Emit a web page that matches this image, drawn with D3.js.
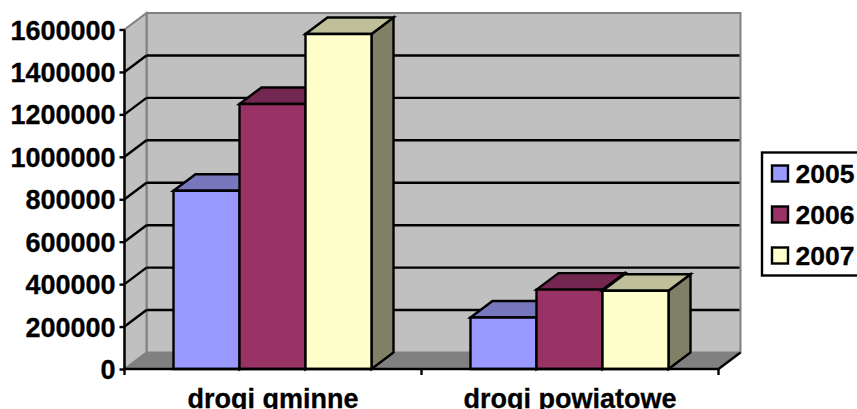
<!DOCTYPE html>
<html><head><meta charset="utf-8">
<script src="https://cdn.jsdelivr.net/npm/d3@7/dist/d3.min.js"></script>
<style>html,body{margin:0;padding:0;background:#fff;overflow:hidden}svg{display:block}
text{font-family:"Liberation Sans",Arial,sans-serif;font-weight:bold;font-size:27px;fill:#000;stroke:#000;stroke-width:0.3px}</style>
</head><body><svg id="c" width="857" height="409"></svg>
<script>
const categories=["drogi gminne","drogi powiatowe"];
const seriesNames=["2005","2006","2007"];
const values2005=[840000,243000];
const values2006=[1249000,374000];
const values2007=[1579000,369000];
const yTicks=[0,200000,400000,600000,800000,1000000,1200000,1400000,1600000];
const frontColors=["#9999FF","#993366","#FFFFCC"];
const topColors=["#7777BE","#732650","#BFBF99"];
const sideColors=["#6B6BA8","#6B2447","#808066"];

const svg=d3.select("#c");
const dx=22,dy=-16.5;
const sw=2.4;
const y=d3.scaleLinear().domain([0,1600000]).range([369,29.5]);
const x0=d3.scaleBand().domain(categories).range([124.5,718.5]);
const x1=d3.scaleBand().domain(seriesNames).range([0,x0.bandwidth()]).paddingInner(0).paddingOuter(0.75);
const seriesValues=[values2005,values2006,values2007];
const poly=(pts,fill,stroke,w)=>svg.append("polygon").attr("points",pts.map(p=>p.join(",")).join(" "))
  .attr("fill",fill).attr("stroke",stroke||"none").attr("stroke-width",w||0).attr("stroke-linejoin","miter");
const xL=x0.range()[0],xR=x0.range()[1],yB=y(0),yT=y(1600000);

// walls and floor
poly([[xL+dx,yB+dy],[xR+dx,yB+dy],[xR+dx,yT+dy],[xL+dx,yT+dy]],"#C0C0C0","#808080",2);
poly([[xL,yB],[xL+dx,yB+dy],[xL+dx,yT+dy],[xL,yT]],"#C0C0C0","#808080",2);
poly([[xL,yB],[xL+dx,yB+dy],[xR+dx,yB+dy],[xR,yB]],"#808080","#808080",1);
svg.append("line").attr("x1",xR).attr("y1",yB).attr("x2",xR+dx).attr("y2",yB+dy).attr("stroke","#000").attr("stroke-width",sw);

// gridlines
yTicks.slice(1,-1).forEach(v=>{
  svg.append("line").attr("x1",xL+dx).attr("x2",xR+dx-1).attr("y1",y(v)+dy).attr("y2",y(v)+dy).attr("stroke","#000").attr("stroke-width",sw);
  svg.append("line").attr("x1",xL).attr("x2",xL+dx).attr("y1",y(v)).attr("y2",y(v)+dy).attr("stroke","#000").attr("stroke-width",sw);
});

// bars
categories.forEach((c,ci)=>{
  seriesNames.forEach((s,si)=>{
    const l=x0(c)+x1(s)-0.5,r=l+x1.bandwidth(),t=y(seriesValues[si][ci]),b=yB;
    poly([[r,t],[r+dx,t+dy],[r+dx,b+dy],[r,b]],sideColors[si],"#000",sw);
    poly([[l,t],[l+dx,t+dy],[r+dx,t+dy],[r,t]],topColors[si],"#000",sw);
    poly([[l,t],[r,t],[r,b],[l,b]],frontColors[si],"#000",sw);
  });
});

// axes
const ya=svg.append("g").attr("transform",`translate(${xL},0)`)
  .call(d3.axisLeft(y).tickValues(yTicks).tickFormat(d3.format("d")).tickSize(5).tickPadding(4));
ya.selectAll("line,path").attr("stroke","#000").attr("stroke-width",sw);
ya.select("path").attr("d",`M0,${yT}V${yB}`);
ya.selectAll("text").attr("font-family",null).attr("font-size",null).attr("dy",null).attr("y",9.5);

const xa=svg.append("g").attr("transform",`translate(0,${yB})`)
  .call(d3.axisBottom(x0).tickSize(0).tickPadding(0));
xa.select("path").attr("d",`M${xL},0H${xR}`).attr("stroke","#000").attr("stroke-width",sw);
xa.selectAll("text").attr("font-family",null).attr("font-size",null).attr("dy",null).attr("y",38.5);
[...categories.map(c=>x0(c)),xR].forEach(v=>xa.append("line").attr("x1",v).attr("x2",v).attr("y1",0).attr("y2",6).attr("stroke","#000").attr("stroke-width",sw));

// legend
svg.append("rect").attr("x",762).attr("y",152.5).attr("width",110).attr("height",123).attr("fill","#fff").attr("stroke","#000").attr("stroke-width",sw);
seriesNames.forEach((s,i)=>{
  const yy=d3.scalePoint().domain(seriesNames).range([173.5,255.5])(s);
  svg.append("rect").attr("x",772).attr("y",yy-8).attr("width",16).attr("height",16).attr("fill",frontColors[i]).attr("stroke","#000").attr("stroke-width",sw);
  svg.append("text").attr("x",795.5).attr("y",yy+9.5).style("font-size","26.5px").text(s);
});
</script></body></html>
